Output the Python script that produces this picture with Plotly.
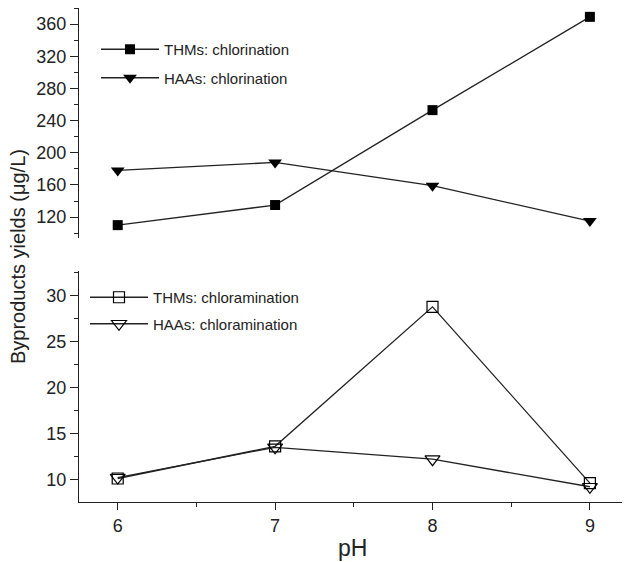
import plotly.graph_objects as go
from plotly.subplots import make_subplots

ph = [6, 7, 8, 9]
thm_chlorination = [110, 135, 253, 369]
haa_chlorination = [178, 188, 159, 115]
thm_chloramination = [10.1, 13.6, 28.8, 9.6]
haa_chloramination = [10.2, 13.5, 12.2, 9.2]

line_color = "#222222"
font_family = "Liberation Sans, Arial, sans-serif"

fig = make_subplots(rows=2, cols=1, shared_xaxes=False, vertical_spacing=0.0)

fig.add_trace(go.Scatter(x=ph, y=thm_chlorination, mode="lines+markers", name="THMs: chlorination",
                         line=dict(color=line_color, width=1.3), legendgroup="a",
                         marker=dict(symbol="square", size=10, color="black"), legend="legend"), row=1, col=1)
fig.add_trace(go.Scatter(x=ph, y=haa_chlorination, mode="lines+markers", name="HAAs: chlorination",
                         line=dict(color=line_color, width=1.3), legendgroup="b",
                         marker=dict(symbol="triangle-down", size=12, color="black"), legend="legend"), row=1, col=1)
fig.add_trace(go.Scatter(x=ph, y=thm_chloramination, mode="lines+markers", name="THMs: chloramination",
                         line=dict(color=line_color, width=1.3), legendgroup="c",
                         marker=dict(symbol="square-open", size=11, color="black", line=dict(width=1.2)),
                         legend="legend2"), row=2, col=1)
fig.add_trace(go.Scatter(x=ph, y=haa_chloramination, mode="lines+markers", name="HAAs: chloramination",
                         line=dict(color=line_color, width=1.3), legendgroup="d",
                         marker=dict(symbol="triangle-down-open", size=13, color="black", line=dict(width=1.2)),
                         legend="legend2"), row=2, col=1)

plot_w = 624 - 79 - 2
plot_h = 562 - 8 - 60


def px(xp):
    return (xp - 79) / plot_w


def py(yp):
    return (502 - yp) / plot_h


xr = [5.754, 9.204]
fig.update_layout(
    width=624, height=562,
    margin=dict(l=79, r=2, t=8, b=60),
    plot_bgcolor="white", paper_bgcolor="white",
    font=dict(family=font_family, color="#222222", size=15),
    showlegend=True,
    legend=dict(x=px(96), y=py(33), xanchor="left", yanchor="top", bgcolor="rgba(0,0,0,0)",
                font=dict(size=15), tracegroupgap=6, itemwidth=58, traceorder="grouped"),
    legend2=dict(x=px(85), y=py(281), xanchor="left", yanchor="top", bgcolor="rgba(0,0,0,0)",
                 font=dict(size=15), tracegroupgap=4, itemwidth=58, traceorder="grouped"),
    xaxis=dict(domain=[0, 1], range=xr, showline=False, showticklabels=False, ticks="",
               showgrid=False, zeroline=False),
    xaxis2=dict(domain=[0, 1], range=xr, showline=True, linecolor=line_color, linewidth=1.3,
                ticks="outside", tickvals=ph, ticklen=7, tickcolor=line_color, tickwidth=1.3,
                minor=dict(tickmode="array", tickvals=[6.5, 7.5, 8.5], ticks="outside", ticklen=4,
                           tickcolor=line_color, tickwidth=1.2, showgrid=False),
                showgrid=False, zeroline=False, tickfont=dict(size=18)),
    yaxis=dict(domain=[py(238), 1.0], range=[94, 380], showline=True, linecolor=line_color, linewidth=1.3,
               ticks="outside", tickvals=[120, 160, 200, 240, 280, 320, 360], ticklen=8,
               tickcolor=line_color, tickwidth=1.3,
               minor=dict(tickmode="array", tickvals=[100, 140, 180, 220, 260, 300, 340, 380], ticks="outside",
                          ticklen=4, tickcolor=line_color, tickwidth=1.2, showgrid=False),
               showgrid=False, zeroline=False, tickfont=dict(size=18)),
    yaxis2=dict(domain=[0.0, py(271)], range=[7.54, 32.7], showline=True, linecolor=line_color, linewidth=1.3,
                ticks="outside", tickvals=[10, 15, 20, 25, 30], ticklen=8,
                tickcolor=line_color, tickwidth=1.3,
                minor=dict(tickmode="array", tickvals=[12.5, 17.5, 22.5, 27.5, 32.5], ticks="outside",
                           ticklen=4, tickcolor=line_color, tickwidth=1.2, showgrid=False),
                showgrid=False, zeroline=False, tickfont=dict(size=18)),
    annotations=[
        dict(text="Byproducts yields (\u03bcg/L)", x=px(18), y=py(257), xref="paper", yref="paper",
             xanchor="center", yanchor="middle",
             showarrow=False, textangle=-90, font=dict(size=20)),
        dict(text="pH", x=px(352), y=py(548), xref="paper", yref="paper",
             xanchor="center", yanchor="middle", showarrow=False, font=dict(size=23)),
    ],
)

fig.write_html("out.html")
